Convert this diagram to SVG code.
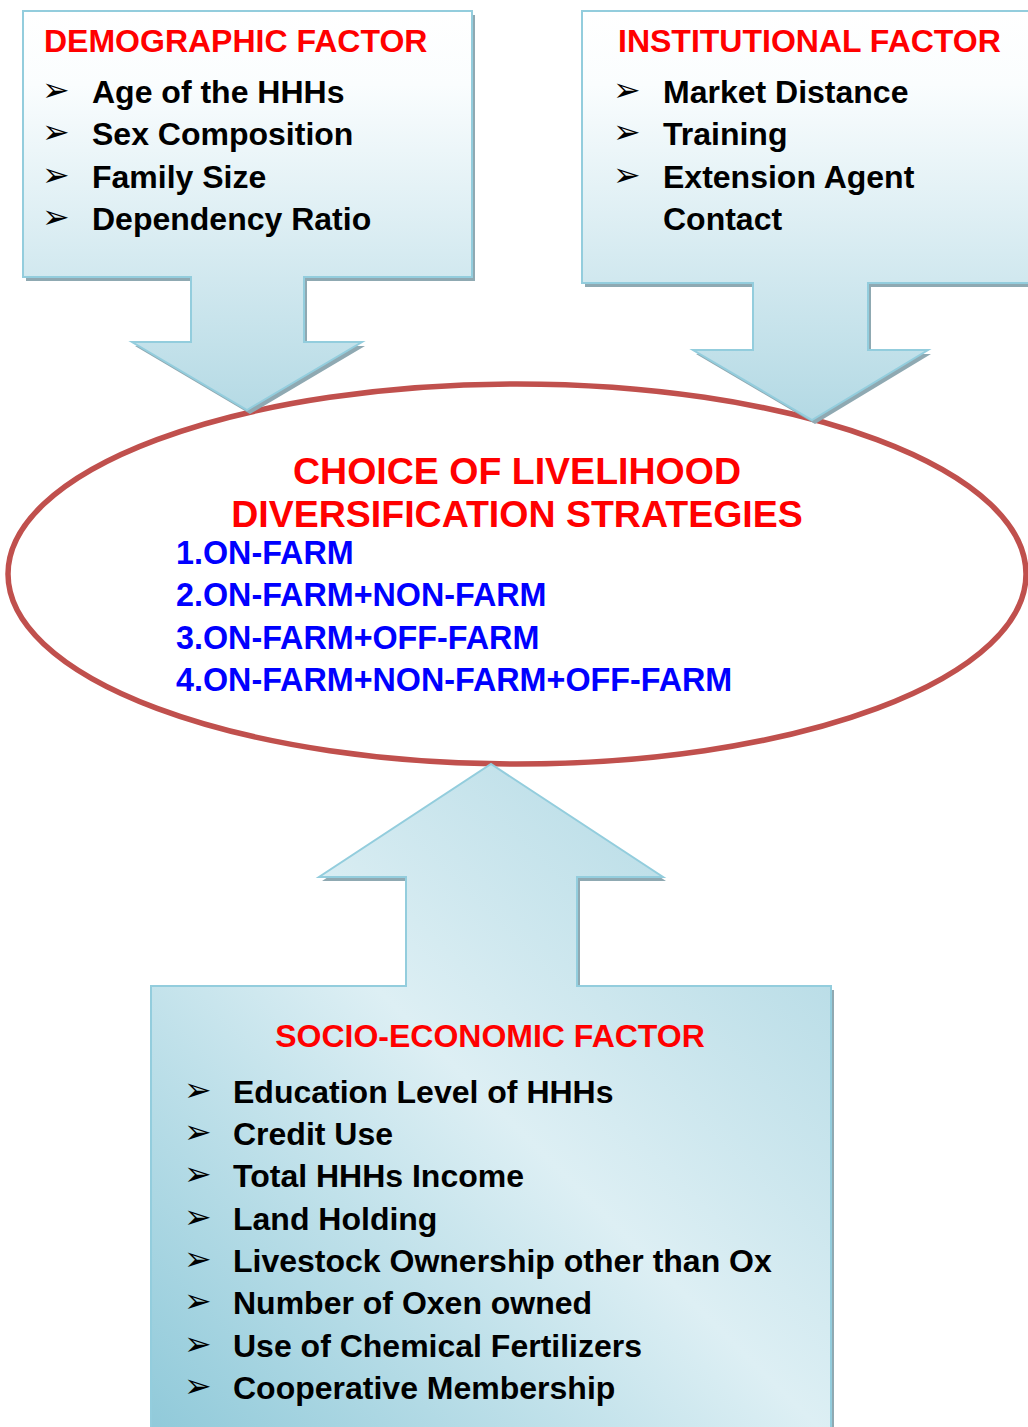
<svg xmlns="http://www.w3.org/2000/svg" width="1028" height="1427" viewBox="0 0 1028 1427">
  <defs>
    <linearGradient id="gTop" gradientUnits="userSpaceOnUse" x1="0" y1="11" x2="0" y2="420">
      <stop offset="0" stop-color="#FFFFFF"/>
      <stop offset="0.18" stop-color="#FAFDFE"/>
      <stop offset="1" stop-color="#B3D9E4"/>
    </linearGradient>
    <linearGradient id="gBottom" x1="0" y1="1" x2="1" y2="0">
      <stop offset="0" stop-color="#8FC9D9"/>
      <stop offset="0.5" stop-color="#DDEFF4"/>
      <stop offset="1" stop-color="#AAD5E1"/>
    </linearGradient>
    <style>
      .shadow { fill: #8FA9B2; }
      .callout { stroke: #93CDDD; stroke-width: 2; stroke-linejoin: miter; }
      .title { font-family: "Liberation Sans", Arial, sans-serif; font-weight: bold; font-size: 32px; fill: #FF0000; }
      .item { font-family: "Liberation Sans", Arial, sans-serif; font-weight: bold; font-size: 32px; fill: #000000; }
      .bullet { font-family: "DejaVu Sans", sans-serif; font-size: 33px; fill: #000000; }
      .center-title { font-family: "Liberation Sans", Arial, sans-serif; font-weight: bold; font-size: 37.5px; fill: #FF0000; }
      .strategy { font-family: "Liberation Sans", Arial, sans-serif; font-weight: bold; font-size: 32.3px; fill: #0000FF; }
    </style>
  </defs>

  <rect width="1028" height="1427" fill="#FFFFFF"/>

  <g id="node-choice">
    <ellipse cx="517" cy="574" rx="509" ry="190" fill="#FFFFFF" stroke="#C0504D" stroke-width="5.5"/>
    <text class="center-title" x="517" y="484" text-anchor="middle">CHOICE OF LIVELIHOOD</text>
    <text class="center-title" x="517" y="527" text-anchor="middle">DIVERSIFICATION STRATEGIES</text>
    <text class="strategy" x="176" y="564">1.ON-FARM</text>
    <text class="strategy" x="176" y="606">2.ON-FARM+NON-FARM</text>
    <text class="strategy" x="176" y="649">3.ON-FARM+OFF-FARM</text>
    <text class="strategy" x="176" y="691">4.ON-FARM+NON-FARM+OFF-FARM</text>
  </g>

  <g id="connectors"></g>

  <g id="node-demographic">
    <path class="shadow" transform="translate(3,4)" d="M23,11 H472 V277 H304 V342 H362 L247,410 L132,342 H191 V277 H23 Z"/>
    <path class="callout" fill="url(#gTop)" d="M23,11 H472 V277 H304 V342 H362 L247,410 L132,342 H191 V277 H23 Z"/>
    <text class="title" x="44" y="52">DEMOGRAPHIC FACTOR</text>
    <text class="bullet" x="42" y="101">➢</text>
    <text class="item" x="92" y="103">Age of the HHHs</text>
    <text class="bullet" x="42" y="143">➢</text>
    <text class="item" x="92" y="145">Sex Composition</text>
    <text class="bullet" x="42" y="186">➢</text>
    <text class="item" x="92" y="188">Family Size</text>
    <text class="bullet" x="42" y="228">➢</text>
    <text class="item" x="92" y="230">Dependency Ratio</text>
  </g>

  <g id="node-institutional">
    <path class="shadow" transform="translate(3,4)" d="M582,11 H1045 V283 H868 V350 H928 L812,420 L693,350 H753 V283 H582 Z"/>
    <path class="callout" fill="url(#gTop)" d="M582,11 H1045 V283 H868 V350 H928 L812,420 L693,350 H753 V283 H582 Z"/>
    <text class="title" x="618" y="52">INSTITUTIONAL FACTOR</text>
    <text class="bullet" x="613" y="101">➢</text>
    <text class="item" x="663" y="103">Market Distance</text>
    <text class="bullet" x="613" y="143">➢</text>
    <text class="item" x="663" y="145">Training</text>
    <text class="bullet" x="613" y="186">➢</text>
    <text class="item" x="663" y="188">Extension Agent</text>
    <text class="item" x="663" y="230">Contact</text>
  </g>

  <g id="node-socioeconomic">
    <path class="shadow" transform="translate(3,4)" d="M151,986 H406 V877 H319 L491,764 L663,877 H577 V986 H831 V1440 H151 Z"/>
    <path class="callout" fill="url(#gBottom)" d="M151,986 H406 V877 H319 L491,764 L663,877 H577 V986 H831 V1440 H151 Z"/>
    <text class="title" x="490" y="1047" text-anchor="middle">SOCIO-ECONOMIC FACTOR</text>
    <text class="bullet" x="184" y="1101">➢</text>
    <text class="item" x="233" y="1103">Education Level of HHHs</text>
    <text class="bullet" x="184" y="1143">➢</text>
    <text class="item" x="233" y="1145">Credit Use</text>
    <text class="bullet" x="184" y="1185">➢</text>
    <text class="item" x="233" y="1187">Total HHHs Income</text>
    <text class="bullet" x="184" y="1228">➢</text>
    <text class="item" x="233" y="1230">Land Holding</text>
    <text class="bullet" x="184" y="1270">➢</text>
    <text class="item" x="233" y="1272">Livestock Ownership other than Ox</text>
    <text class="bullet" x="184" y="1312">➢</text>
    <text class="item" x="233" y="1314">Number of Oxen owned</text>
    <text class="bullet" x="184" y="1355">➢</text>
    <text class="item" x="233" y="1357">Use of Chemical Fertilizers</text>
    <text class="bullet" x="184" y="1397">➢</text>
    <text class="item" x="233" y="1399">Cooperative Membership</text>
  </g>
</svg>
